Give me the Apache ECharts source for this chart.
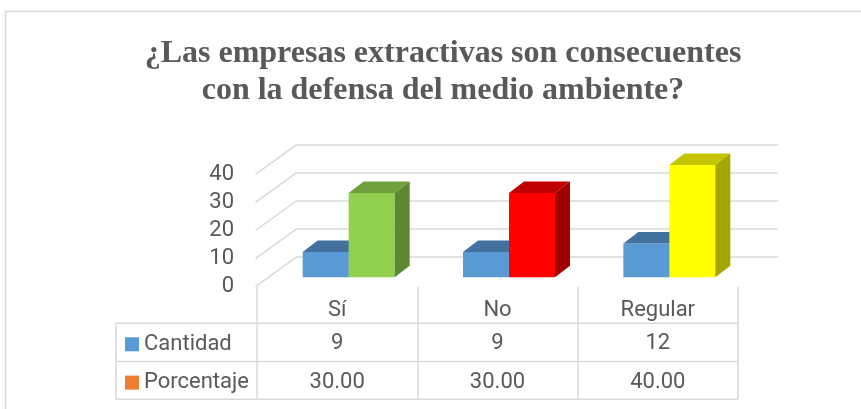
<!DOCTYPE html>
<html>
<head>
<meta charset="utf-8">
<script src="https://cdn.jsdelivr.net/npm/echarts@6/dist/echarts.min.js"></script>
<style>
html,body{margin:0;padding:0;background:#fff;}
#chart{width:861px;height:409px;}
</style>
</head>
<body>
<div id="chart"></div>
<script>
// ---- data ----
const titleLines = ['¿Las empresas extractivas son consecuentes', 'con la defensa del medio ambiente?'];
const categories = ['Sí', 'No', 'Regular'];
const cantidad = [9, 9, 12];
const porcentaje = [30, 30, 40];
const porcentajeLabels = ['30.00', '30.00', '40.00'];
const rowNames = ['Cantidad', 'Porcentaje'];
const yTicks = [0, 10, 20, 30, 40];

// ---- styles / layout ----
const TEXT = '#595959';
const GRIDC = '#d9d9d9';
const FONT = 'Roboto';
const FS = 22;
const cantidadColor = { front: '#5b9bd5', top: '#41719c', side: '#3a6791' };
const pctColors = [
  { front: '#92d050', top: '#70a03c', side: '#5e8732' },
  { front: '#ff0000', top: '#c00000', side: '#a00000' },
  { front: '#ffff00', top: '#c4c400', side: '#a6a600' }
];
const FRONT = { left: 257, right: 738, zeroY: 286.7, topY: 174.3 };
const WALL = [40, -30];      // depth of floor / side wall
const BAR_OFF = [11.5, -9.4]; // front plane of bars relative to floor front
const BAR_D = [15, -11.5];    // bar depth
const BW = 46;                // bar width
const ROW = 38.3;
const TABLE_LEFT = 116;

const chart = echarts.init(document.getElementById('chart'), null, { renderer: 'canvas' });

function bar3d(x0, yt, yb, c) {
  const x1 = x0 + BW;
  return [
    { type: 'rect', shape: { x: x0, y: yt, width: BW, height: yb - yt }, style: { fill: c.front } },
    { type: 'polygon', shape: { points: [[x0, yt], [x1, yt], [x1 + BAR_D[0], yt + BAR_D[1]], [x0 + BAR_D[0], yt + BAR_D[1]]] }, style: { fill: c.top } },
    { type: 'polygon', shape: { points: [[x1, yt], [x1 + BAR_D[0], yt + BAR_D[1]], [x1 + BAR_D[0], yb + BAR_D[1]], [x1, yb]] }, style: { fill: c.side } }
  ];
}

function barRender(isPct) {
  return function (params, api) {
    const i = api.value(0);
    const base = api.coord([i, 0]);
    const top = api.coord([i, api.value(1)]);
    const x0 = base[0] + BAR_OFF[0] - (isPct ? 0 : BW);
    const yb = base[1] + BAR_OFF[1];
    const yt = top[1] + BAR_OFF[1];
    const c = isPct ? pctColors[i] : cantidadColor;
    return { type: 'group', children: bar3d(x0, yt, yb, c) };
  };
}

const gridH = FRONT.zeroY - FRONT.topY;
const W = FRONT.right - FRONT.left;

const option = {
  backgroundColor: '#ffffff',
  animation: false,
  textStyle: { fontFamily: FONT },
  grid: [
    { left: FRONT.left, top: FRONT.topY, width: W, height: gridH },
    { left: FRONT.left + WALL[0], top: FRONT.topY + WALL[1], width: W, height: gridH }
  ],
  xAxis: [
    {
      type: 'category', gridIndex: 0, data: categories, position: 'bottom',
      axisLine: { show: false },
      axisTick: { show: true, length: ROW * 3 - 2.3, interval: 0, lineStyle: { color: GRIDC, width: 1.5 } },
      axisLabel: { margin: 13, color: TEXT, fontSize: FS, fontFamily: FONT, interval: 0 }
    },
    {
      type: 'category', gridIndex: 0, data: cantidad.map(String), position: 'bottom', offset: ROW,
      axisLine: { show: false }, axisTick: { show: false },
      axisLabel: { margin: 7, color: TEXT, fontSize: FS, fontFamily: FONT, interval: 0 }
    },
    {
      type: 'category', gridIndex: 0, data: porcentajeLabels, position: 'bottom', offset: ROW * 2,
      axisLine: { show: false }, axisTick: { show: false },
      axisLabel: { margin: 8, color: TEXT, fontSize: FS, fontFamily: FONT, interval: 0 }
    },
    { type: 'category', gridIndex: 1, data: categories, show: false }
  ],
  yAxis: [
    {
      type: 'value', gridIndex: 0, min: 0, max: 40, interval: 10,
      axisLine: { show: false }, axisTick: { show: false }, splitLine: { show: false },
      axisLabel: { margin: 23, color: TEXT, fontSize: FS, fontFamily: FONT }
    },
    {
      type: 'value', gridIndex: 1, min: 0, max: 40, interval: 10,
      axisLine: { show: false }, axisTick: { show: false }, axisLabel: { show: false },
      splitLine: { show: true, lineStyle: { color: GRIDC, width: 1.5 } }
    }
  ],
  legend: {
    orient: 'vertical', left: 120, top: 342.3 - 14, itemWidth: 14, itemHeight: 14,
    itemGap: ROW - 22, icon: 'rect', selectedMode: false,
    data: rowNames,
    textStyle: { color: TEXT, fontSize: FS, fontFamily: FONT, lineHeight: 22, padding: [0, 0, 0, 0] }
  },
  series: [
    {
      type: 'custom', name: 'wall', xAxisIndex: 0, yAxisIndex: 0, silent: true,
      data: yTicks.map(v => [0, v]),
      renderItem: function (params, api) {
        const p = api.coord([0, api.value(1)]);
        const x = p[0] - api.size([1, 0])[0] / 2 - 1.5;
        return { type: 'line', shape: { x1: x, y1: p[1], x2: x + WALL[0] + 1.5, y2: p[1] + WALL[1] }, style: { stroke: GRIDC, lineWidth: 1.5 } };
      }
    },
    {
      type: 'custom', name: rowNames[0], xAxisIndex: 0, yAxisIndex: 0,
      itemStyle: { color: '#5b9bd5' },
      data: cantidad.map((v, i) => [i, v]),
      renderItem: barRender(false)
    },
    {
      type: 'custom', name: rowNames[1], xAxisIndex: 0, yAxisIndex: 0,
      itemStyle: { color: '#ed7d31' },
      data: porcentaje.map((v, i) => [i, v]),
      renderItem: barRender(true)
    }
  ],
  graphic: [
    { type: 'rect', silent: true, shape: { x: 5.5, y: 11.5, width: 900, height: 440 }, style: { fill: 'none', stroke: GRIDC, lineWidth: 1.5 } },
    {
      type: 'text', silent: true, x: 443, y: 35,
      style: {
        text: titleLines.join('\n'), textAlign: 'center', textVerticalAlign: 'top',
        font: 'bold 32px "Liberation Serif"', fill: TEXT, lineHeight: 37
      }
    },
    { type: 'line', silent: true, shape: { x1: TABLE_LEFT, y1: FRONT.zeroY + ROW - 1.7, x2: FRONT.right, y2: FRONT.zeroY + ROW - 1.7 }, style: { stroke: GRIDC, lineWidth: 1.5 } },
    { type: 'line', silent: true, shape: { x1: TABLE_LEFT, y1: FRONT.zeroY + ROW * 2 - 1.7, x2: FRONT.right, y2: FRONT.zeroY + ROW * 2 - 1.7 }, style: { stroke: GRIDC, lineWidth: 1.5 } },
    { type: 'line', silent: true, shape: { x1: TABLE_LEFT, y1: FRONT.zeroY + ROW * 3 - 2.3, x2: FRONT.right, y2: FRONT.zeroY + ROW * 3 - 2.3 }, style: { stroke: GRIDC, lineWidth: 1.5 } },
    { type: 'line', silent: true, shape: { x1: TABLE_LEFT, y1: FRONT.zeroY + ROW - 1.7, x2: TABLE_LEFT, y2: FRONT.zeroY + ROW * 3 - 2.3 }, style: { stroke: GRIDC, lineWidth: 1.5 } }
  ]
};
chart.setOption(option);
</script>
</body>
</html>
